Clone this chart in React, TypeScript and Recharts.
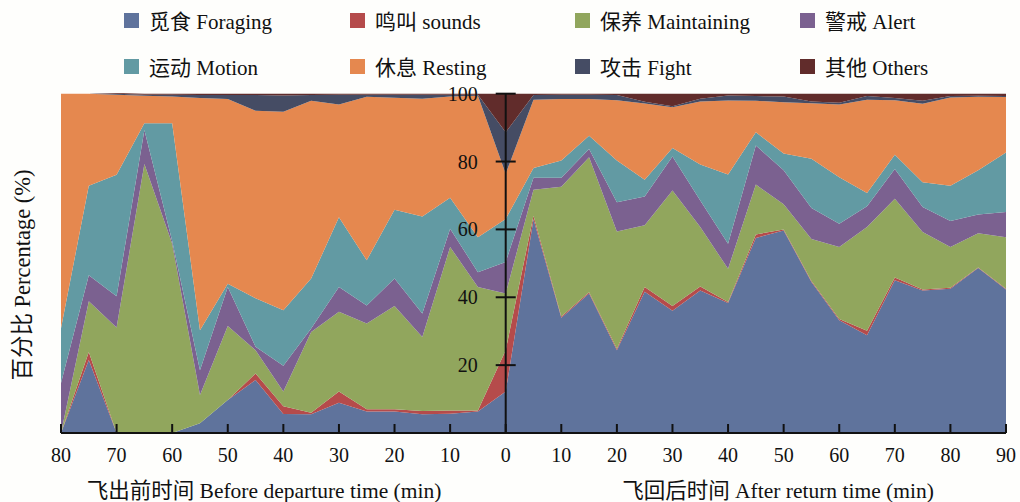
import React from "react";
import { AreaChart, Area, XAxis, YAxis, ReferenceLine, ReferenceDot } from "recharts";

// minutes: negative = before departure, positive = after return
const minutes = [
  -80, -75, -70, -65, -60, -55, -50, -45, -40, -35, -30, -25, -20, -15, -10, -5,
  0, 5, 10, 15, 20, 25, 30, 35, 40, 45, 50, 55, 60, 65, 70, 75, 80, 85, 90,
];

const foraging = [
  0, 21.5, 0, 0, 0, 2.9, 9.7, 15.6, 5.6, 5.5, 8.9, 6.3, 6.3, 5.5, 5.7, 6.3,
  12.2, 63, 34, 41.1, 24.4, 41.6, 36, 42, 38.3, 57.5, 59.7, 44.5, 33.2, 28.8, 45, 42, 42.5, 48.6, 42.3,
];
const sounds = [
  0, 2.4, 0, 0, 0, 0, 0, 1.9, 2.3, 0.5, 3.3, 0.7, 0.7, 1, 0.9, 0.3,
  12.2, 1, 0.3, 0.4, 0.4, 1.4, 1.4, 1.2, 0.3, 1, 0.3, 0.3, 0.4, 1.3, 0.8, 0.3, 0.3, 0.2, 0.2,
];
const maintaining = [
  0, 14.9, 31.1, 79.3, 55.8, 8.3, 21.8, 6.9, 4.3, 23.8, 23.5, 25.3, 30.4, 21.8, 48.2, 36.4,
  16.7, 7.7, 38.3, 39.8, 34.6, 18.2, 34.1, 17.5, 9.8, 14.7, 7.4, 12.4, 21.2, 30.6, 23.2, 16.9, 12, 10.1, 15.2,
];
const alert = [
  14.7, 7.7, 9.2, 10, 0.8, 7.3, 11.5, 1, 7.6, 1, 7.3, 5.3, 8.1, 6.9, 5.4, 4.4,
  9.3, 3.5, 2.6, 2.4, 8.6, 8.5, 10, 7.8, 7.4, 11.5, 10, 9.1, 6.9, 6.1, 8.8, 7.4, 7.7, 5.5, 7.4,
];
const motion = [
  16.2, 26.4, 35.8, 2, 34.7, 11.8, 1, 14.3, 16.4, 14.7, 20.6, 13.3, 20.3, 28.6, 9.1, 10.3,
  12.7, 2.9, 5.1, 3.9, 12.3, 4.9, 2.5, 10.6, 20.4, 3.9, 5, 14.5, 13.7, 3.9, 4.2, 7.3, 10.4, 13, 17.6,
];
const resting = [
  69.1, 27.1, 23.6, 8.1, 7.9, 68.4, 54.4, 55.3, 58.5, 52.4, 33.2, 48.2, 33, 34.7, 29.9, 41.7,
  13.3, 20.1, 18.1, 10.8, 17.8, 22.5, 12, 18.6, 21.8, 9.3, 15.1, 16.4, 21.4, 27.5, 16.1, 23.1, 26, 21.7, 16.3,
];
const fight = [
  0, 0, 0.3, 0.3, 0.5, 0.9, 1.2, 4.6, 4.8, 1.7, 2.9, 0.6, 0.9, 1.2, 0.5, 0.3,
  12.2, 1.4, 1.3, 1.3, 1.5, 0.5, 0.3, 0.8, 1.5, 1.4, 1.7, 0.5, 0.5, 1.1, 0.6, 0.9, 0.4, 0.3, 0.3,
];
const others = [
  0, 0, 0.2, 0.3, 0.3, 0.4, 0.4, 0.4, 0.5, 0.4, 0.3, 0.3, 0.3, 0.3, 0.3, 0.3,
  11.4, 0.4, 0.3, 0.3, 0.4, 2.4, 3.7, 1.5, 0.5, 0.7, 0.8, 2.3, 2.7, 0.7, 1.3, 2.1, 0.7, 0.6, 0.7,
];

const xTicks = [-80, -70, -60, -50, -40, -30, -20, -10, 0, 10, 20, 30, 40, 50, 60, 70, 80, 90];
const yTicks = [20, 40, 60, 80, 100];

const series = [
  { key: "foraging", name: "觅食 Foraging", color: "#5f739c", values: foraging },
  { key: "sounds", name: "鸣叫 sounds", color: "#b54b4b", values: sounds },
  { key: "maintaining", name: "保养 Maintaining", color: "#91a65d", values: maintaining },
  { key: "alert", name: "警戒 Alert", color: "#7b6190", values: alert },
  { key: "motion", name: "运动 Motion", color: "#629aa3", values: motion },
  { key: "resting", name: "休息 Resting", color: "#e5884f", values: resting },
  { key: "fight", name: "攻击 Fight", color: "#454c64", values: fight },
  { key: "others", name: "其他 Others", color: "#612c2b", values: others },
];

const chartData = minutes.map((m, i) => {
  const row: Record<string, number> = { minute: m };
  series.forEach((s) => {
    row[s.key] = s.values[i];
  });
  return row;
});

const FONT = '"Liberation Serif", "Times New Roman", "Noto Sans CJK SC", serif';

const XTick = (props: any) => {
  const { x, y, payload } = props;
  return (
    <g>
      <line x1={x} x2={x} y1={y} y2={y - 9} stroke="#111" strokeWidth={2} />
      <text x={x} y={y + 29} textAnchor="middle" fontSize={20} fill="#111" fontFamily={FONT}>
        {Math.abs(payload.value)}
      </text>
    </g>
  );
};

const YTickMark = (props: any) => {
  const { cx, cy, value } = props;
  return (
    <g>
      <line x1={cx - 10} x2={cx + 10} y1={cy} y2={cy} stroke="#111" strokeWidth={2} />
      <text x={cx - 28} y={cy + 7} textAnchor="end" fontSize={20} fill="#111" fontFamily={FONT}>
        {value}
      </text>
    </g>
  );
};

const legendCols = [124, 350, 575, 800];
const legendRows = [20, 66];

const App = () => {
  return (
    <div
      style={{
        position: "absolute",
        left: 0,
        top: 0,
        width: 1020,
        height: 502,
        background: "#fefefc",
        fontFamily: FONT,
        color: "#111",
      }}
    >
      {series.map((s, i) => (
        <div
          key={s.key}
          style={{
            position: "absolute",
            left: legendCols[i % 4],
            top: legendRows[Math.floor(i / 4)] - 12,
            height: 24,
            display: "flex",
            alignItems: "center",
            fontSize: 21,
            whiteSpace: "nowrap",
          }}
        >
          <span style={{ width: 15, height: 15, background: s.color, marginRight: 10, display: "inline-block" }} />
          {s.name}
        </div>
      ))}

      <AreaChart
        width={1020}
        height={502}
        data={chartData}
        margin={{ top: 93, right: 14, left: 61, bottom: 39 }}
        style={{ position: "absolute", left: 0, top: 0 }}
      >
        <XAxis
          dataKey="minute"
          type="number"
          domain={[-80, 90]}
          ticks={xTicks}
          interval={0}
          height={30}
          tickSize={0}
          tickMargin={0}
          tickLine={false}
          axisLine={{ stroke: "#111", strokeWidth: 2 }}
          tick={<XTick />}
        />
        <YAxis type="number" domain={[0, 100]} hide />
        {series.map((s) => (
          <Area
            key={s.key}
            type="linear"
            dataKey={s.key}
            name={s.name}
            stackId="1"
            stroke="none"
            fill={s.color}
            fillOpacity={1}
            isAnimationActive={false}
          />
        ))}
        <ReferenceLine x={0} stroke="#111" strokeWidth={2} ifOverflow="visible" />
        {yTicks.map((t) => (
          <ReferenceDot
            key={t}
            x={0}
            y={t}
            ifOverflow="visible"
            shape={(p: any) => <YTickMark {...p} value={t} />}
          />
        ))}
      </AreaChart>

      <div
        style={{
          position: "absolute",
          left: 20,
          top: 275,
          transform: "translate(-50%, -50%) rotate(-90deg)",
          fontSize: 22.5,
          whiteSpace: "nowrap",
        }}
      >
        百分比 Percentage (%)
      </div>
      <div
        style={{
          position: "absolute",
          left: 264,
          top: 488,
          transform: "translate(-50%, -50%)",
          fontSize: 21.5,
          whiteSpace: "nowrap",
        }}
      >
        飞出前时间 Before departure time (min)
      </div>
      <div
        style={{
          position: "absolute",
          left: 778,
          top: 488,
          transform: "translate(-50%, -50%)",
          fontSize: 21.5,
          whiteSpace: "nowrap",
        }}
      >
        飞回后时间 After return time (min)
      </div>
    </div>
  );
};

export default App;
